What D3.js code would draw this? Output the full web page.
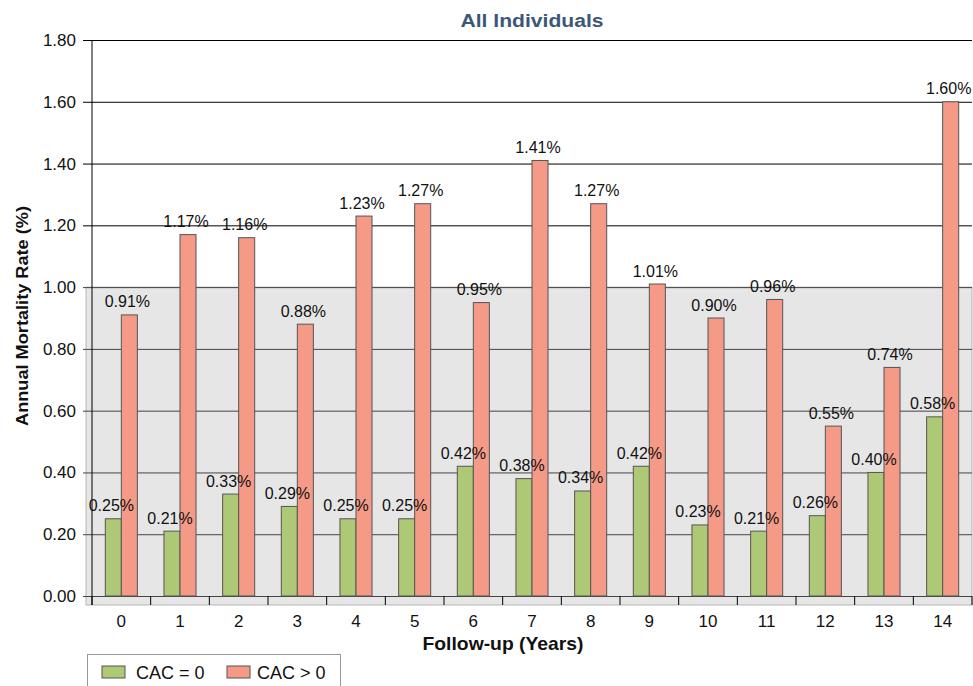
<!DOCTYPE html>
<html>
<head>
<meta charset="utf-8">
<script src="https://cdn.jsdelivr.net/npm/d3@7"></script>
<style>
  body { margin: 0; background: #fff; }
  text { font-family: "Liberation Sans", Arial, sans-serif; }
</style>
</head>
<body>
<div id="chart"></div>
<script>
var years = ["0", "1", "2", "3", "4", "5", "6", "7", "8", "9", "10", "11", "12", "13", "14"];
var seriesNames = ["CAC = 0", "CAC > 0"];
var cacZero = [0.25, 0.21, 0.33, 0.29, 0.25, 0.25, 0.42, 0.38, 0.34, 0.42, 0.23, 0.21, 0.26, 0.40, 0.58];
var cacPos = [0.91, 1.17, 1.16, 0.88, 1.23, 1.27, 0.95, 1.41, 1.27, 1.01, 0.90, 0.96, 0.55, 0.74, 1.60];
var yTicks = [0, 0.2, 0.4, 0.6, 0.8, 1.0, 1.2, 1.4, 1.6, 1.8];
var colors = ["#aec976", "#f49a87"];

function init() {
    var w = 973;
    var h = 686;
    var left = 92, right = 972, top = 40, bottom = 596;

    var svg = d3.select("#chart")
        .append("svg")
        .attr("width", w)
        .attr("height", h);

    var x = d3.scaleBand().domain(years).range([left, right]).padding(0);
    var xSub = d3.scaleBand().domain(seriesNames).range([0, x.bandwidth()])
        .paddingInner(0).paddingOuter(0.83);
    var y = d3.scaleLinear().domain([0, 1.8]).range([bottom, top]);

    // shaded band below 1.00
    svg.append("rect")
        .attr("x", left - 6)
        .attr("y", y(1.0))
        .attr("width", right - left + 6)
        .attr("height", bottom + 9 - y(1.0))
        .attr("fill", "#e6e6e6")
        .attr("stroke", "#b5b5b5");

    // y axis with full-width grid
    var yAxis = d3.axisLeft(y)
        .tickValues(yTicks)
        .tickSize(-(right - left + 9))
        .tickPadding(7)
        .tickFormat(d3.format(".2f"));
    var gy = svg.append("g")
        .attr("transform", "translate(" + (left - 9) + ",0)")
        .call(yAxis);
    gy.select(".domain").remove();
    gy.selectAll(".tick line")
        .attr("stroke", function (d) { return d <= 1.0 ? "#444" : "#000"; });
    gy.selectAll(".tick text")
        .attr("font-size", 17)
        .attr("fill", "#111")
        .attr("font-family", "Liberation Sans, Arial, sans-serif");

    svg.append("line")
        .attr("x1", left).attr("x2", left)
        .attr("y1", top).attr("y2", bottom + 9)
        .attr("stroke", "#000");

    // x axis tick marks at band edges
    var edges = years.map(function (d) { return x(d); }).concat([right]);
    svg.selectAll("line.xtick")
        .data(edges)
        .enter()
        .append("line")
        .attr("class", "xtick")
        .attr("x1", function (d) { return d; })
        .attr("x2", function (d) { return d; })
        .attr("y1", bottom)
        .attr("y2", bottom + 9)
        .attr("stroke", "#000");

    svg.selectAll("text.xlab")
        .data(years)
        .enter()
        .append("text")
        .attr("class", "xlab")
        .attr("x", function (d) { return x(d) + x.bandwidth() / 2; })
        .attr("y", 627)
        .attr("text-anchor", "middle")
        .attr("font-size", 17)
        .attr("fill", "#111")
        .text(function (d) { return d; });

    // bars
    var rows = years.map(function (d, i) {
        return { year: d, values: [cacZero[i], cacPos[i]] };
    });

    var groups = svg.selectAll("g.grp")
        .data(rows)
        .enter()
        .append("g")
        .attr("class", "grp")
        .attr("transform", function (d) { return "translate(" + x(d.year) + ",0)"; });

    groups.selectAll("rect")
        .data(function (d) {
            return d.values.map(function (v, k) { return { name: seriesNames[k], v: v, k: k }; });
        })
        .enter()
        .append("rect")
        .attr("x", function (d) { return xSub(d.name); })
        .attr("y", function (d) { return y(d.v); })
        .attr("width", xSub.bandwidth())
        .attr("height", function (d) { return bottom - y(d.v); })
        .attr("fill", function (d) { return colors[d.k]; })
        .attr("stroke", "#555")
        .attr("stroke-width", 1);

    groups.selectAll("text")
        .data(function (d) {
            return d.values.map(function (v, k) { return { name: seriesNames[k], v: v, k: k }; });
        })
        .enter()
        .append("text")
        .attr("x", function (d) { return xSub(d.name) + xSub.bandwidth() / 2 - 2; })
        .attr("y", function (d) { return y(d.v) - 7.5; })
        .attr("text-anchor", "middle")
        .attr("font-size", 16)
        .attr("fill", "#111")
        .text(function (d) { return d.v.toFixed(2) + "%"; });

    // titles
    svg.append("text")
        .attr("x", 532)
        .attr("y", 27)
        .attr("text-anchor", "middle")
        .attr("font-size", 18)
        .attr("font-weight", "bold")
        .attr("fill", "#3b5878")
        .attr("textLength", 143)
        .attr("lengthAdjust", "spacingAndGlyphs")
        .text("All Individuals");

    svg.append("text")
        .attr("transform", "translate(28,316) rotate(-90)")
        .attr("text-anchor", "middle")
        .attr("font-size", 16.5)
        .attr("font-weight", "bold")
        .attr("fill", "#111")
        .attr("textLength", 220)
        .attr("lengthAdjust", "spacingAndGlyphs")
        .text("Annual Mortality Rate (%)");

    svg.append("text")
        .attr("x", 503)
        .attr("y", 650)
        .attr("text-anchor", "middle")
        .attr("font-size", 18.5)
        .attr("font-weight", "bold")
        .attr("fill", "#111")
        .attr("textLength", 161)
        .attr("lengthAdjust", "spacingAndGlyphs")
        .text("Follow-up (Years)");

    // legend
    var legend = svg.append("g");
    legend.append("rect")
        .attr("x", 87.5).attr("y", 654.5)
        .attr("width", 253).attr("height", 40)
        .attr("fill", "#fff")
        .attr("stroke", "#999");
    var items = legend.selectAll("g.item")
        .data(seriesNames)
        .enter()
        .append("g")
        .attr("class", "item")
        .attr("transform", function (d, i) { return "translate(" + (102 + i * 125) + ",666)"; });
    items.append("rect")
        .attr("width", 23).attr("height", 12)
        .attr("fill", function (d, i) { return colors[i]; })
        .attr("stroke", "#555");
    items.append("text")
        .attr("x", function (d, i) { return i === 0 ? 34 : 30; })
        .attr("y", 13)
        .attr("font-size", 18)
        .attr("fill", "#111")
        .text(function (d) { return d; });
}
window.onload = init;
</script>
</body>
</html>
